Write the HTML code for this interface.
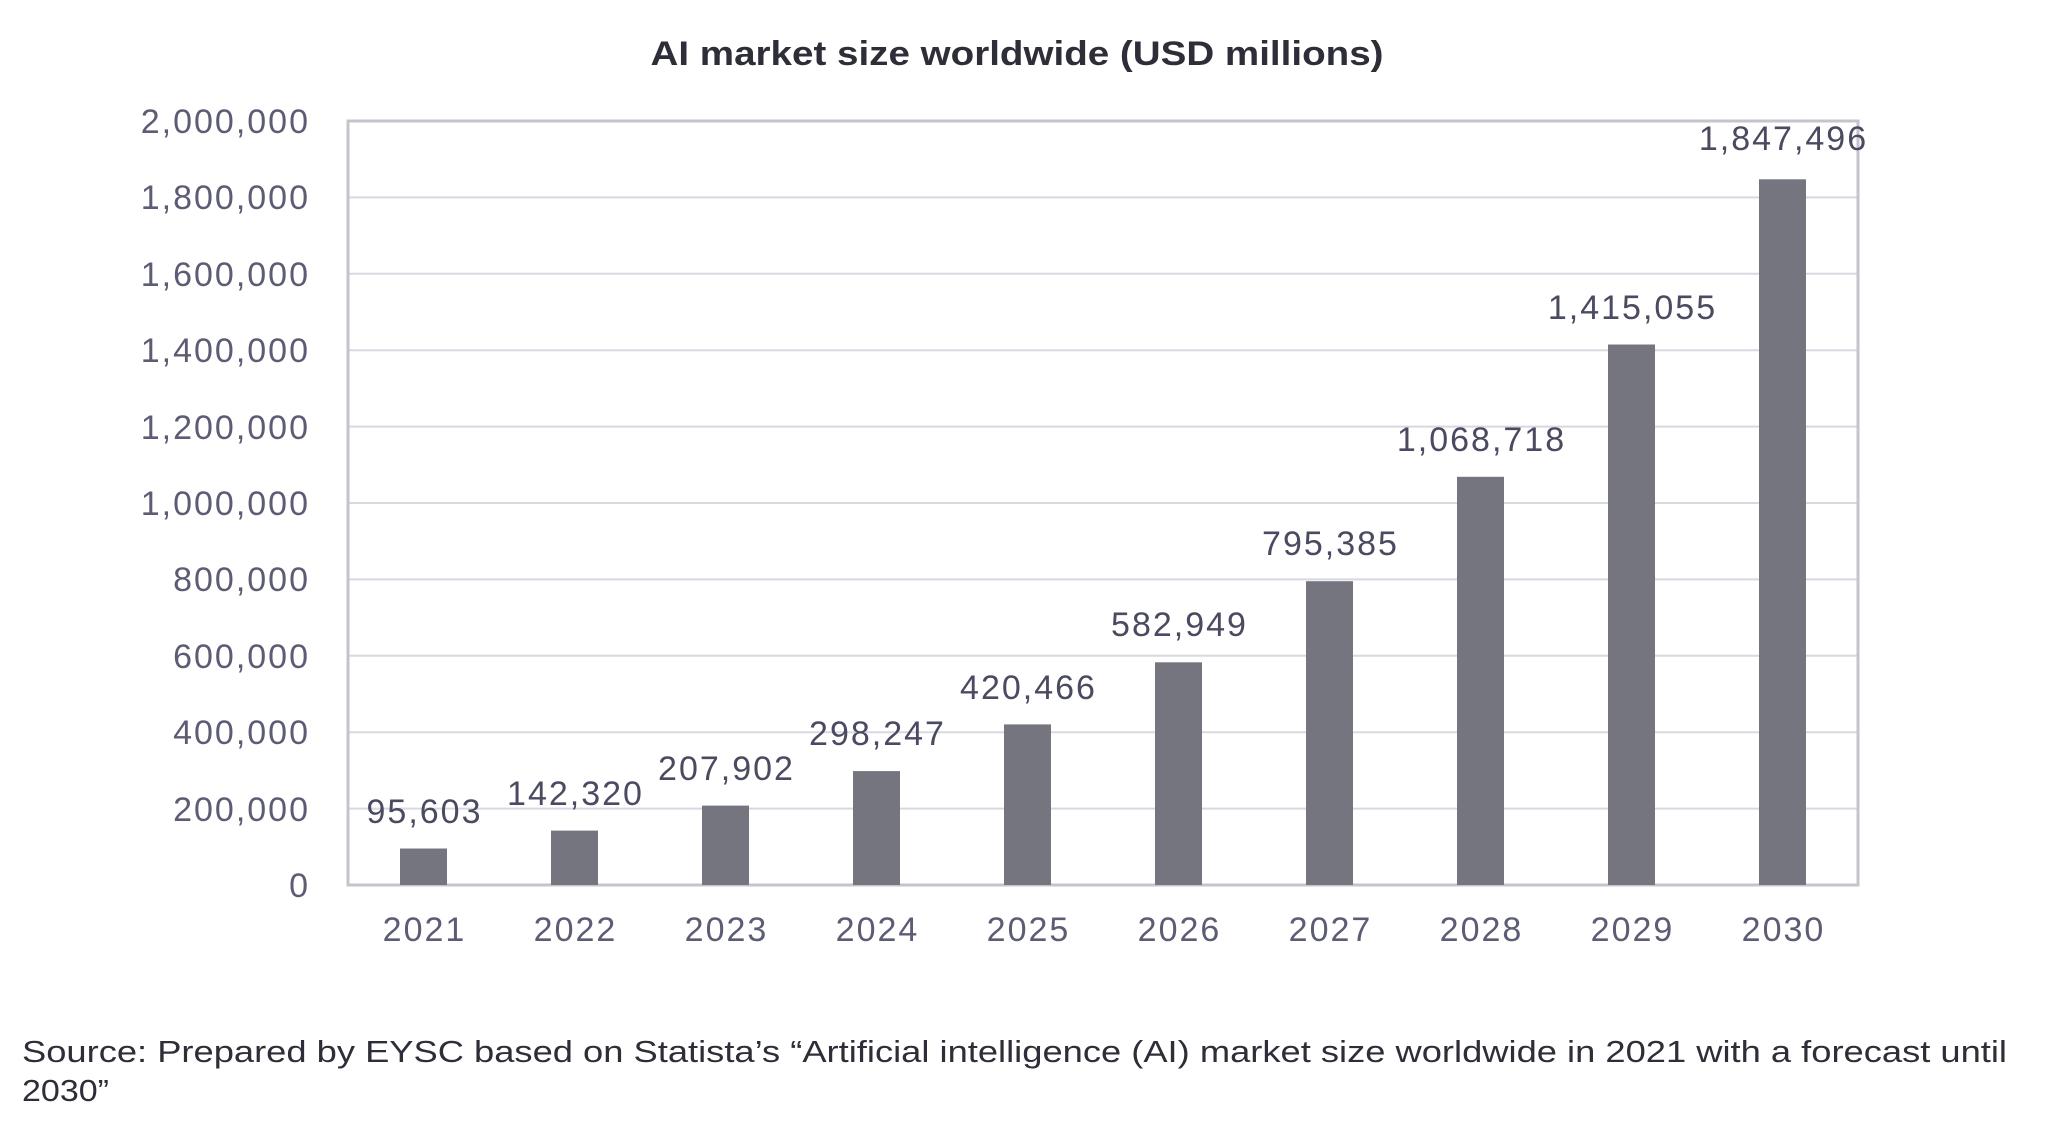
<!DOCTYPE html>
<html><head><meta charset="utf-8"><style>
html,body{margin:0;padding:0;background:#fff;width:2048px;height:1123px;overflow:hidden}
svg text{font-family:"Liberation Sans",sans-serif}
</style></head><body>
<svg width="2048" height="1123" viewBox="0 0 2048 1123" xmlns="http://www.w3.org/2000/svg">
<text x="1017" y="65" text-anchor="middle" font-size="34" font-weight="bold" fill="#2e2e38" textLength="733" lengthAdjust="spacingAndGlyphs">AI market size worldwide (USD millions)</text>
<g stroke="#d8d8e0" stroke-width="2">
<line x1="348" x2="1858" y1="197.4" y2="197.4"/><line x1="348" x2="1858" y1="273.8" y2="273.8"/>
<line x1="348" x2="1858" y1="350.2" y2="350.2"/><line x1="348" x2="1858" y1="426.6" y2="426.6"/>
<line x1="348" x2="1858" y1="503" y2="503"/><line x1="348" x2="1858" y1="579.4" y2="579.4"/>
<line x1="348" x2="1858" y1="655.8" y2="655.8"/><line x1="348" x2="1858" y1="732.2" y2="732.2"/>
<line x1="348" x2="1858" y1="808.6" y2="808.6"/>
</g>
<rect x="348" y="121" width="1510" height="764" fill="none" stroke="#c4c4cc" stroke-width="3"/>
<g font-size="34" fill="#5c5c74" text-anchor="end" letter-spacing="2">
<text x="310" y="133">2,000,000</text><text x="310" y="209">1,800,000</text><text x="310" y="286">1,600,000</text>
<text x="310" y="362">1,400,000</text><text x="310" y="439">1,200,000</text><text x="310" y="515">1,000,000</text>
<text x="310" y="591">800,000</text><text x="310" y="668">600,000</text><text x="310" y="744">400,000</text>
<text x="310" y="821">200,000</text><text x="310" y="897">0</text>
</g>
<g fill="#75757f">
<rect x="400" y="848.5" width="47" height="36.5"/>
<rect x="551" y="830.6" width="47" height="54.4"/>
<rect x="702" y="805.6" width="47" height="79.4"/>
<rect x="853" y="771.1" width="47" height="113.9"/>
<rect x="1004" y="724.4" width="47" height="160.6"/>
<rect x="1155" y="662.3" width="47" height="222.7"/>
<rect x="1306" y="581.2" width="47" height="303.8"/>
<rect x="1457" y="476.8" width="47" height="408.2"/>
<rect x="1608" y="344.5" width="47" height="540.5"/>
<rect x="1759" y="179.3" width="47" height="705.7"/>
</g>
<g font-size="34" fill="#4a4a60" text-anchor="middle" letter-spacing="2">
<text x="424.5" y="823">95,603</text>
<text x="575.5" y="805">142,320</text>
<text x="726.5" y="780">207,902</text>
<text x="877.5" y="745">298,247</text>
<text x="1028.5" y="699">420,466</text>
<text x="1179.5" y="636">582,949</text>
<text x="1330.5" y="555">795,385</text>
<text x="1481.5" y="451">1,068,718</text>
<text x="1632.5" y="319">1,415,055</text>
<text x="1783.5" y="150">1,847,496</text>
</g>
<g font-size="34" fill="#5c5c74" text-anchor="middle" letter-spacing="2">
<text x="424.5" y="941">2021</text><text x="575.5" y="941">2022</text><text x="726.5" y="941">2023</text>
<text x="877.5" y="941">2024</text><text x="1028.5" y="941">2025</text><text x="1179.5" y="941">2026</text>
<text x="1330.5" y="941">2027</text><text x="1481.5" y="941">2028</text><text x="1632.5" y="941">2029</text>
<text x="1783.5" y="941">2030</text>
</g>
<g font-size="31" fill="#2e2e38">
<text x="22" y="1062" textLength="1985" lengthAdjust="spacingAndGlyphs">Source: Prepared by EYSC based on Statista’s “Artificial intelligence (AI) market size worldwide in 2021 with a forecast until</text>
<text x="22" y="1101" textLength="87" lengthAdjust="spacingAndGlyphs">2030”</text>
</g>
</svg>
</body></html>
